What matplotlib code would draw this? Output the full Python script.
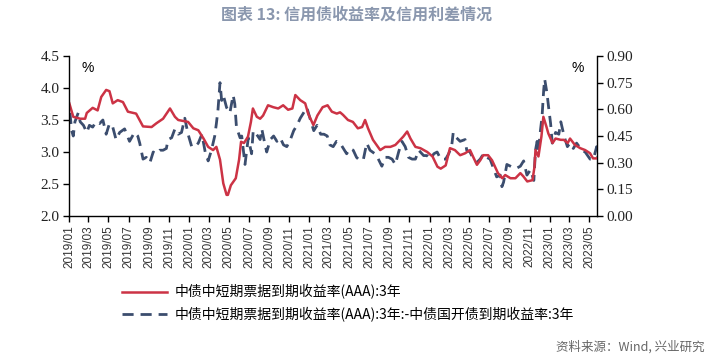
import matplotlib
matplotlib.use("Agg")
import matplotlib.pyplot as plt
import pandas as pd
from matplotlib.ticker import FormatStrFormatter

plt.rcParams['font.family'] = ['Noto Sans CJK SC', 'DejaVu Sans']

# ---------------- data ----------------
yield_dates = [
    "2019-01-02", "2019-01-14", "2019-02-04", "2019-02-19", "2019-02-24", "2019-03-14", "2019-03-29",
    "2019-04-09", "2019-04-24", "2019-05-04", "2019-05-14", "2019-05-29", "2019-06-14", "2019-06-29",
    "2019-07-24", "2019-08-14", "2019-09-09", "2019-09-24", "2019-10-14", "2019-11-04", "2019-11-19",
    "2019-11-29", "2019-12-29", "2020-01-14", "2020-01-29", "2020-02-14", "2020-02-28", "2020-03-14",
    "2020-03-24", "2020-04-04", "2020-04-14", "2020-04-24", "2020-04-28", "2020-05-07", "2020-05-22",
    "2020-06-01", "2020-06-07", "2020-06-16", "2020-06-28", "2020-07-07", "2020-07-13", "2020-07-25",
    "2020-08-04", "2020-08-13", "2020-08-28", "2020-09-13", "2020-09-28", "2020-10-13", "2020-10-28",
    "2020-11-10", "2020-11-19", "2020-12-04", "2020-12-19", "2020-12-28", "2021-01-13", "2021-01-25",
    "2021-02-10", "2021-02-25", "2021-03-10", "2021-03-25", "2021-04-04", "2021-04-13", "2021-04-28",
    "2021-05-13", "2021-05-28", "2021-06-10", "2021-06-19", "2021-06-28", "2021-07-13", "2021-08-04",
    "2021-08-19", "2021-09-04", "2021-09-19", "2021-10-04", "2021-10-13", "2021-10-25", "2021-11-04",
    "2021-11-19", "2021-12-04", "2021-12-25", "2022-01-10", "2022-01-25", "2022-02-04", "2022-02-19",
    "2022-03-04", "2022-03-19", "2022-04-04", "2022-04-19", "2022-05-04", "2022-05-13", "2022-05-25",
    "2022-06-04", "2022-06-13", "2022-06-28", "2022-07-10", "2022-07-19", "2022-07-28", "2022-08-10",
    "2022-08-19", "2022-09-04", "2022-09-19", "2022-10-04", "2022-10-13", "2022-10-25", "2022-11-10",
    "2022-11-16", "2022-11-19", "2022-11-28", "2022-12-07", "2022-12-13", "2022-12-22", "2022-12-28",
    "2023-01-10", "2023-01-19", "2023-02-04", "2023-02-13", "2023-02-25", "2023-03-04", "2023-03-19",
    "2023-04-04", "2023-04-19", "2023-05-04", "2023-05-13", "2023-05-25",
]
yield_values = [
    3.76, 3.55, 3.52, 3.52, 3.61, 3.69, 3.65,
    3.86, 3.97, 3.95, 3.76, 3.81, 3.78, 3.63,
    3.60, 3.40, 3.39, 3.45, 3.52, 3.68, 3.55,
    3.50, 3.47, 3.37, 3.34, 3.21, 3.08, 3.03,
    3.08, 2.88, 2.51, 2.33, 2.33, 2.48, 2.59,
    2.88, 3.16, 3.14, 3.24, 3.47, 3.68, 3.55,
    3.52, 3.57, 3.73, 3.70, 3.68, 3.73, 3.66,
    3.68, 3.89, 3.81, 3.76, 3.60, 3.42, 3.57,
    3.70, 3.73, 3.63, 3.60, 3.62, 3.58, 3.50,
    3.47, 3.37, 3.39, 3.50, 3.37, 3.19, 3.03,
    3.08, 3.08, 3.11, 3.19, 3.24, 3.32, 3.21,
    3.08, 3.06, 3.00, 2.93, 2.77, 2.74, 2.79,
    3.06, 3.03, 2.95, 2.98, 3.03, 2.93, 2.80,
    2.87, 2.95, 2.95, 2.87, 2.77, 2.67, 2.59,
    2.64, 2.59, 2.59, 2.67, 2.62, 2.54, 2.56,
    2.77, 3.03, 2.93, 3.24, 3.55, 3.40, 3.29,
    3.14, 3.21, 3.19, 3.19, 3.14, 3.21, 3.11,
    3.06, 3.03, 2.98, 2.90, 2.90,
]

spread_dates = [
    "2019-01-04", "2019-01-09", "2019-01-14", "2019-01-19", "2019-01-29", "2019-02-04", "2019-02-14",
    "2019-02-24", "2019-03-04", "2019-03-14", "2019-03-24", "2019-04-04", "2019-04-14", "2019-04-24",
    "2019-05-04", "2019-05-14", "2019-05-24", "2019-06-04", "2019-06-19", "2019-07-04", "2019-07-19",
    "2019-07-29", "2019-08-04", "2019-08-14", "2019-08-24", "2019-09-04", "2019-09-14", "2019-09-24",
    "2019-10-04", "2019-10-14", "2019-10-24", "2019-10-29", "2019-11-09", "2019-11-19", "2019-11-29",
    "2019-12-09", "2019-12-19", "2019-12-29", "2020-01-09", "2020-01-19", "2020-01-29", "2020-02-09",
    "2020-02-19", "2020-02-28", "2020-03-09", "2020-03-19", "2020-03-24", "2020-03-29", "2020-04-04",
    "2020-04-09", "2020-04-14", "2020-04-24", "2020-05-04", "2020-05-14", "2020-05-19", "2020-05-24",
    "2020-06-04", "2020-06-09", "2020-06-19", "2020-06-29", "2020-07-09", "2020-07-14", "2020-07-24",
    "2020-08-04", "2020-08-09", "2020-08-19", "2020-08-24", "2020-09-04", "2020-09-14", "2020-09-24",
    "2020-10-04", "2020-10-14", "2020-10-24", "2020-11-04", "2020-11-14", "2020-11-24", "2020-12-04",
    "2020-12-14", "2020-12-24", "2021-01-04", "2021-01-14", "2021-01-24", "2021-02-04", "2021-02-14",
    "2021-02-24", "2021-03-04", "2021-03-14", "2021-03-24", "2021-04-04", "2021-04-14", "2021-04-24",
    "2021-05-04", "2021-05-14", "2021-05-24", "2021-06-04", "2021-06-14", "2021-06-24", "2021-07-04",
    "2021-07-19", "2021-07-24", "2021-08-09", "2021-08-19", "2021-08-29", "2021-09-09", "2021-09-19",
    "2021-09-29", "2021-10-09", "2021-10-19", "2021-10-29", "2021-11-09", "2021-11-19", "2021-11-29",
    "2021-12-14", "2021-12-24", "2022-01-04", "2022-01-14", "2022-01-24", "2022-02-04", "2022-02-19",
    "2022-02-28", "2022-03-09", "2022-03-14", "2022-03-24", "2022-04-04", "2022-04-19", "2022-04-24",
    "2022-05-04", "2022-05-14", "2022-05-24", "2022-06-04", "2022-06-14", "2022-06-24", "2022-07-04",
    "2022-07-14", "2022-07-24", "2022-08-04", "2022-08-09", "2022-08-14", "2022-08-24", "2022-09-04",
    "2022-09-14", "2022-09-24", "2022-10-04", "2022-10-14", "2022-10-24", "2022-11-04", "2022-11-14",
    "2022-11-19", "2022-11-24", "2022-11-28", "2022-12-04", "2022-12-09", "2022-12-14", "2022-12-17",
    "2022-12-24", "2022-12-29", "2023-01-04", "2023-01-09", "2023-01-19", "2023-01-29", "2023-02-04",
    "2023-02-14", "2023-02-24", "2023-03-04", "2023-03-14", "2023-03-24", "2023-04-09", "2023-04-19",
    "2023-05-04", "2023-05-14", "2023-05-24", "2023-05-28",
]
spread_values = [
    0.58, 0.48, 0.45, 0.53, 0.58, 0.53, 0.51,
    0.47, 0.51, 0.50, 0.53, 0.52, 0.54, 0.46,
    0.52, 0.50, 0.43, 0.47, 0.49, 0.42, 0.47,
    0.45, 0.41, 0.32, 0.33, 0.30, 0.36, 0.35,
    0.37, 0.37, 0.38, 0.43, 0.44, 0.49, 0.46,
    0.47, 0.55, 0.46, 0.39, 0.39, 0.41, 0.46,
    0.36, 0.31, 0.37, 0.45, 0.52, 0.60, 0.75,
    0.65, 0.68, 0.61, 0.58, 0.68, 0.63, 0.50,
    0.44, 0.45, 0.29, 0.44, 0.35, 0.48, 0.46,
    0.43, 0.49, 0.40, 0.36, 0.43, 0.45, 0.42,
    0.44, 0.40, 0.39, 0.43, 0.48, 0.51, 0.55,
    0.58, 0.61, 0.54, 0.48, 0.51, 0.46, 0.46,
    0.45, 0.40, 0.39, 0.42, 0.41, 0.38, 0.35,
    0.38, 0.37, 0.33, 0.31, 0.32, 0.41, 0.37,
    0.35, 0.34, 0.28, 0.33, 0.33, 0.32, 0.29,
    0.36, 0.42, 0.39, 0.33, 0.32, 0.32, 0.37,
    0.34, 0.34, 0.32, 0.35, 0.36, 0.32, 0.32,
    0.35, 0.39, 0.47, 0.44, 0.42, 0.43, 0.37,
    0.36, 0.32, 0.30, 0.32, 0.35, 0.33, 0.32,
    0.27, 0.22, 0.23, 0.165, 0.19, 0.29, 0.28,
    0.27, 0.27, 0.28, 0.31, 0.23, 0.26, 0.20,
    0.37, 0.42, 0.37, 0.48, 0.56, 0.71, 0.77,
    0.69, 0.61, 0.52, 0.41, 0.47, 0.46, 0.53,
    0.45, 0.39, 0.41, 0.38, 0.41, 0.37, 0.36,
    0.32, 0.32, 0.39, 0.32,
]

tick_months = pd.date_range("2019-01-01", "2023-05-01", freq="2MS")
left_ticks = [2.0, 2.5, 3.0, 3.5, 4.0, 4.5]
right_ticks = [0.00, 0.15, 0.30, 0.45, 0.60, 0.75, 0.90]

title_text = "图表 13: 信用债收益率及信用利差情况"
label_yield = "中债中短期票据到期收益率(AAA):3年"
label_spread = "中债中短期票据到期收益率(AAA):3年:-中债国开债到期收益率:3年"
source_text = "资料来源：Wind, 兴业研究"

# ---------------- figure ----------------
W, H = 713, 356
fig = plt.figure(figsize=(W / 100, H / 100), dpi=100)
ax = fig.add_axes([69 / W, 1 - 216 / H, (597 - 69) / W, (216 - 56) / H])
ax2 = ax.twinx()

red = "#cc3345"
blue = "#3b4d6e"

yd = pd.to_datetime(yield_dates)
sd = pd.to_datetime(spread_dates)

l2, = ax2.plot(sd, spread_values, color=blue, lw=2.0, dashes=(4, 2.5), label=label_spread)
l1, = ax.plot(yd, yield_values, color=red, lw=1.8, label=label_yield)
ax.set_zorder(ax2.get_zorder() + 1)
ax.patch.set_visible(False)

ax.set_xlim(pd.Timestamp("2019-01-01"), pd.Timestamp("2023-05-25"))
ax.set_ylim(2.0, 4.5)
ax2.set_ylim(0.0, 0.9)
ax.set_yticks(left_ticks)
ax2.set_yticks(right_ticks)
ax.yaxis.set_major_formatter(FormatStrFormatter("%.1f"))
ax2.yaxis.set_major_formatter(FormatStrFormatter("%.2f"))

ax.set_xticks(tick_months)
ax.set_xticklabels([d.strftime("%Y/%m") for d in tick_months], rotation=90,
                   family="Liberation Sans", fontsize=8.5, color="#333333")

for a in (ax, ax2):
    a.spines["top"].set_visible(False)
    for s in a.spines.values():
        s.set_color("black")
        s.set_linewidth(1.0)
ax.spines["right"].set_visible(False)
ax2.spines["left"].set_visible(False)
ax2.spines["bottom"].set_visible(False)

ax.tick_params(axis="y", direction="out", length=4, width=1, labelsize=11, pad=3)
ax2.tick_params(axis="y", direction="out", length=4, width=1, labelsize=11, pad=3)
ax.tick_params(axis="x", direction="out", length=4, width=1, pad=3)
for lab in ax.get_yticklabels() + ax2.get_yticklabels():
    lab.set_family("Liberation Serif")
    lab.set_color("#222222")

fig.text(88 / W, 1 - 68 / H, "%", fontsize=10, family="Liberation Sans", ha="center", va="center")
fig.text(578 / W, 1 - 68 / H, "%", fontsize=10, family="Liberation Sans", ha="center", va="center")

fig.text(0.5, 1 - 15 / H, title_text, ha="center", va="center", fontsize=11.5,
         fontweight="bold", color="#8a97ae", family=["Noto Sans CJK SC", "DejaVu Sans"])

fig.legend(handles=[l1, l2], loc="upper left", bbox_to_anchor=(116 / W, 1 - 279 / H),
           frameon=False, fontsize=10, handlelength=3.3, handletextpad=0.5,
           labelspacing=0.55, borderaxespad=0)

fig.text(705 / W, 1 - 347 / H, source_text, ha="right", va="center", fontsize=9,
         color="#666666")

fig.savefig("out.png", dpi=100)
